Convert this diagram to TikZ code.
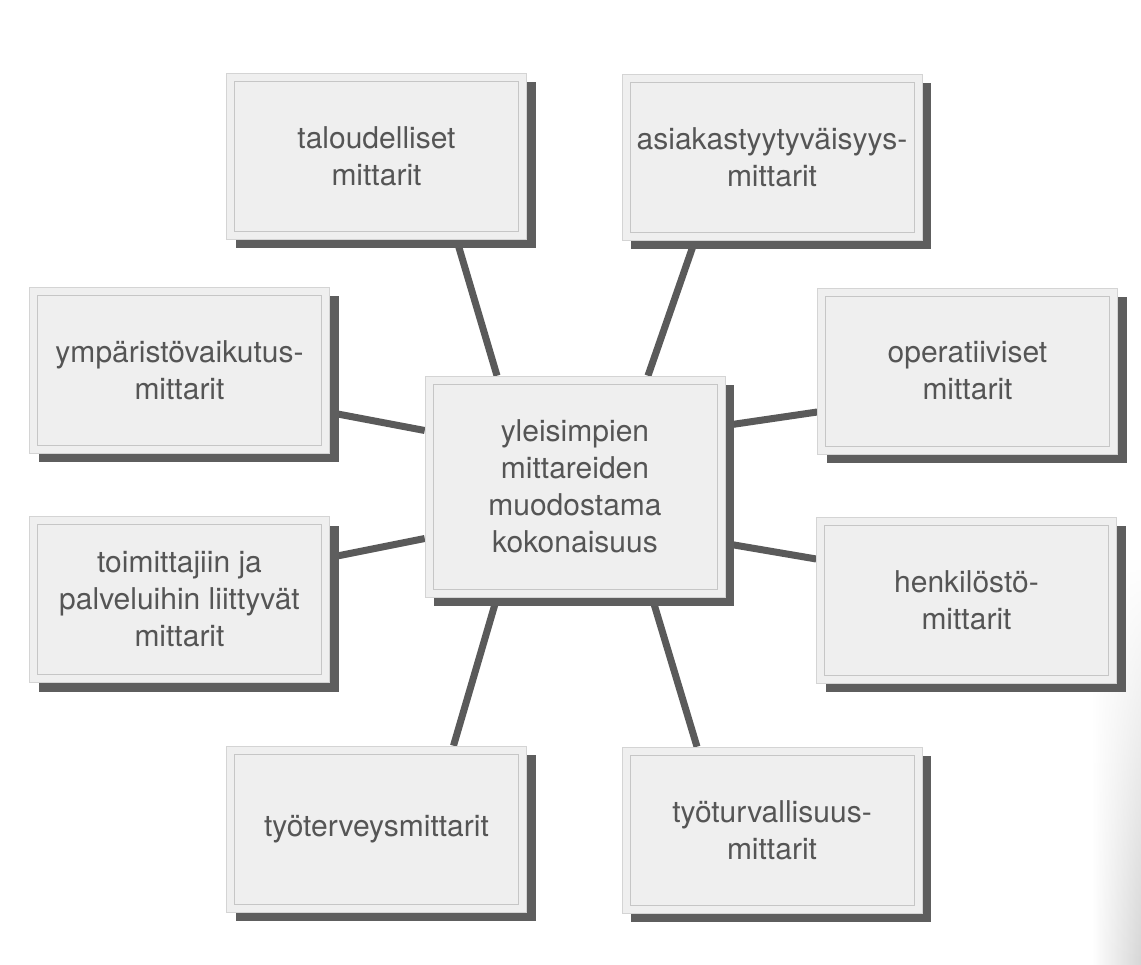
\documentclass[tikz,border=0pt]{standalone}
\usepackage{fontspec}
\setmainfont{TeX Gyre Heros}
\usetikzlibrary{calc,shadows,backgrounds,fadings}

\definecolor{boxfill}{HTML}{EFEFEF}
\definecolor{outerline}{HTML}{D4D4D4}
\definecolor{innerline}{HTML}{C6C6C6}
\definecolor{shadowgray}{HTML}{5E5E5E}
\definecolor{spokegray}{HTML}{5A5A5A}
\definecolor{labeltext}{HTML}{555555}

% darkening towards the bottom of the right page edge
\tikzfading[name=edgefade, top color=transparent!100, bottom color=transparent!0]

\begin{document}
\begin{tikzpicture}[x=1pt, y=-1pt,
  card/.style={draw=outerline, line width=0.6pt, fill=boxfill,
    minimum width=300pt, minimum height=166pt, inner sep=0pt,
    align=center, text=labeltext, font=\fontsize{30}{37}\selectfont,
    drop shadow={shadow xshift=9pt, shadow yshift=-9pt, fill=shadowgray, opacity=1},
    path picture={\draw[innerline, line width=0.6pt]
      ([shift={(8pt,-8pt)}]path picture bounding box.north west) rectangle
      ([shift={(-8pt,8pt)}]path picture bounding box.south east);}},
  hub/.style={card, minimum height=221pt},
  spoke/.style={draw=spokegray, line width=7pt}]

\useasboundingbox (0,0) rectangle (1141,965);

% outer measures
\node[card] (tal) at (376.5,156) {taloudelliset\\mittarit};
\node[card] (asi) at (772,157) {asiakastyytyväisyys-\\mittarit};
\node[card] (ymp) at (179.5,370.5) {ympäristövaikutus-\\mittarit};
\node[card] (ope) at (967.5,371) {operatiiviset\\mittarit};
\node[card] (toi) at (179.5,599.5) {toimittajiin ja\\palveluihin liittyvät\\mittarit};
\node[card] (hen) at (966.5,600) {henkilöstö-\\mittarit};
\node[card] (tyo) at (376.5,829) {työterveysmittarit};
\node[card] (tur) at (772,830) {työturvallisuus-\\mittarit};

% central whole
\node[hub] (ctr) at (575,486.5) {yleisimpien\\mittareiden\\muodostama\\kokonaisuus};

% paper, edge tone and spokes behind the boxes
\begin{scope}[on background layer]
  \fill[white] (0,0) rectangle (1141,965);
  \shade[left color=white, right color=black!16, path fading=edgefade]
    (1092,560) rectangle (1141,965);
  \draw[spoke] ($(tal.south)+(80,0)$) -- ($(ctr.north)+(-78,0)$);
  \draw[spoke] ($(asi.south)+(-77,0)$) -- ($(ctr.north)+(73,0)$);
  \draw[spoke] ($(ymp.east)+(0,42)$) -- ($(ctr.west)+(0,-56)$);
  \draw[spoke] ($(ope.west)+(0,41)$) -- ($(ctr.east)+(0,-61)$);
  \draw[spoke] ($(toi.east)+(0,-42)$) -- ($(ctr.west)+(0,52)$);
  \draw[spoke] ($(hen.west)+(0,-41)$) -- ($(ctr.east)+(0,57)$);
  \draw[spoke] ($(tyo.north)+(77,0)$) -- ($(ctr.south)+(-78,0)$);
  \draw[spoke] ($(tur.north)+(-75,0)$) -- ($(ctr.south)+(77,0)$);
\end{scope}
\end{tikzpicture}
\end{document}
